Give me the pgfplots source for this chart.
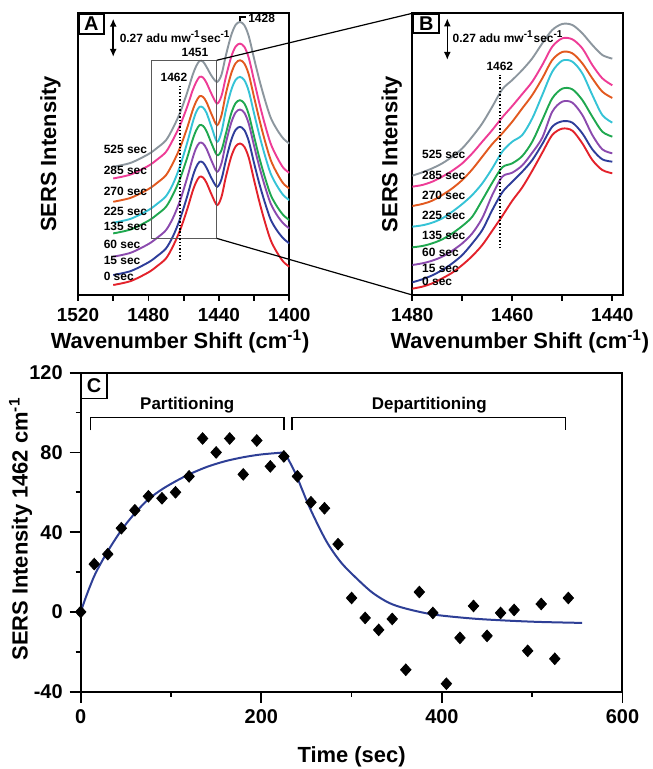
\documentclass[border=0pt]{standalone}
\usepackage{fontspec}
\setmainfont{Liberation Sans}
\usepackage{pgfplots}
\pgfplotsset{compat=1.18}
\usetikzlibrary{arrows.meta}

\definecolor{c0}{HTML}{E3222B}
\definecolor{c15}{HTML}{2E3D9A}
\definecolor{c60}{HTML}{8B4AAE}
\definecolor{c135}{HTML}{1FA84F}
\definecolor{c225}{HTML}{35C3D6}
\definecolor{c270}{HTML}{E2591F}
\definecolor{c285}{HTML}{EE3C96}
\definecolor{c525}{HTML}{8C969E}
\definecolor{fitblue}{HTML}{2E3F96}

\newcommand{\fs}[1]{\fontsize{#1}{#1}\selectfont\bfseries}

\pgfplotsset{
  panel/.style={
    scale only axis, anchor=south west,
    tick align=outside, tick pos=left,
    axis line style={line width=1bp},
    every tick/.style={black, line width=0.9bp},
    major tick length=3bp, minor tick length=3bp,
    /pgf/number format/assume math mode=true,
    /pgf/number format/1000 sep={},
    tick label style={font=\fs{9.5}},
    label style={font=\fs{11}},
  },
  spec/.style={smooth, no markers, line width=0.95bp},
}
\tikzset{tlab/.style={font=\fs{6}, anchor=west, inner sep=0pt}}

\begin{document}
\begin{tikzpicture}
\useasboundingbox (0,0) rectangle (326.5bp,384.5bp);

% ---------------- panel A ----------------
\begin{axis}[panel, name=A,
  at={(39bp,237bp)}, width=105.65bp, height=141bp,
  x dir=reverse, xmin=1400, xmax=1520, ymin=0, ymax=847,
  xtick={1400,1440,1480,1520}, minor xtick={1420,1460,1500}, ytick=\empty,
  xlabel={Wavenumber Shift (cm\textsuperscript{-1})},
  ylabel={SERS Intensity},
  xlabel style={at={(axis description cs:0.483,-0.165)}, anchor=center},
  ylabel style={at={(axis description cs:-0.13,0.5)}, anchor=center},
]
\addplot[spec, c0] coordinates {(1500,30)(1490,42)(1480,68)(1475,87)(1470,110)(1466,147)(1462,195)(1458,257)(1455,310)(1453,338)(1451,355)(1449,353)(1447,337)(1444,300)(1441,270)(1438.5,295)(1436,355)(1433,415)(1430.5,446)(1428,455)(1425.5,445)(1423,412)(1420,345)(1417,280)(1414,222)(1410.6,165)(1407,128)(1403.4,100)(1400,85)};
\addplot[spec, c15] coordinates {(1500,60)(1490,72)(1480,98)(1475,117)(1470,140)(1466,177)(1462,229)(1458,296)(1455,353)(1453,383)(1451,400)(1449,398)(1447,382)(1444,349)(1441,325)(1438.5,348)(1436,405)(1433,465)(1430.5,496)(1428,505)(1425.5,495)(1423,462)(1420,396)(1417,334)(1414,280)(1410.6,227)(1407,194)(1403.4,170)(1400,155)};
\addplot[spec, c60] coordinates {(1500,115)(1490,127)(1480,153)(1475,172)(1470,195)(1466,232)(1462,284)(1458,352)(1455,409)(1453,440)(1451,457)(1449,455)(1447,439)(1444,401)(1441,370)(1438.5,396)(1436,457)(1433,517)(1430.5,548)(1428,557)(1425.5,547)(1423,514)(1420,448)(1417,385)(1414,329)(1410.6,275)(1407,240)(1403.4,215)(1400,200)};
\addplot[spec, c135] coordinates {(1500,185)(1490,197)(1480,223)(1475,242)(1470,265)(1466,302)(1462,350)(1458,412)(1455,465)(1453,493)(1451,510)(1449,508)(1447,492)(1444,453)(1441,420)(1438.5,435)(1436,485)(1433,545)(1430.5,576)(1428,585)(1425.5,575)(1423,542)(1420,476)(1417,412)(1414,356)(1410.6,301)(1407,266)(1403.4,240)(1400,225)};
\addplot[spec, c225] coordinates {(1500,217)(1490,229)(1480,255)(1475,274)(1470,297)(1466,334)(1462,388)(1458,457)(1455,516)(1453,548)(1451,565)(1449,563)(1447,547)(1444,502)(1441,460)(1438.5,490)(1436,555)(1433,615)(1430.5,646)(1428,655)(1425.5,645)(1423,612)(1420,545)(1417,480)(1414,422)(1410.6,365)(1407,328)(1403.4,300)(1400,285)};
\addplot[spec, c270] coordinates {(1500,280)(1490,292)(1480,318)(1475,337)(1470,360)(1466,397)(1462,443)(1458,502)(1455,553)(1453,580)(1451,597)(1449,595)(1447,579)(1444,541)(1441,510)(1438.5,540)(1436,605)(1433,665)(1430.5,696)(1428,705)(1425.5,695)(1423,662)(1420,594)(1417,527)(1414,466)(1410.6,406)(1407,366)(1403.4,335)(1400,320)};
\addplot[spec, c285] coordinates {(1500,350)(1490,362)(1480,388)(1475,407)(1470,430)(1466,467)(1462,510)(1458,565)(1455,613)(1453,638)(1451,655)(1449,653)(1447,637)(1444,602)(1441,575)(1438.5,598)(1436,655)(1433,715)(1430.5,746)(1428,755)(1425.5,745)(1423,712)(1420,644)(1417,576)(1414,515)(1410.6,455)(1407,414)(1403.4,382)(1400,367)};
\addplot[spec, c525] coordinates {(1500,385)(1490,397)(1480,423)(1475,442)(1470,465)(1466,502)(1462,548)(1458,608)(1455,659)(1453,686)(1451,703)(1449,701)(1447,685)(1444,657)(1441,640)(1438.5,662)(1436,720)(1433,780)(1430.5,811)(1428,820)(1425.5,810)(1423,777)(1420,710)(1417,646)(1414,589)(1410.6,533)(1407,497)(1403.4,470)(1400,455)};
\draw[black!65, line width=0.7bp] (axis cs:1478.2,170) rectangle (axis cs:1441.2,705);
\coordinate (aTR) at (axis cs:1441.2,705);
\coordinate (aBR) at (axis cs:1441.2,170);
\draw[densely dotted, line width=0.7bp] (axis cs:1462,105) -- (axis cs:1462,630);
\node[font=\fs{6}] at (axis cs:1465.5,655) {1462};
\node[font=\fs{6}] at (axis cs:1453.6,727) {1451};
\draw[line width=0.6bp] (axis cs:1428,822) -- (axis cs:1428,835) -- (axis cs:1424.5,835);
\node[tlab] at (axis cs:1423.5,830) {1428};
\draw[{Latex[length=4bp,width=3.5bp]}-{Latex[length=4bp,width=3.5bp]}, line width=0.8bp] (axis cs:1500,830) -- (axis cs:1500,715);
\node[tlab] at (axis cs:1496.5,775) {0.27 adu mw\textsuperscript{-1}sec\textsuperscript{-1}};
\node[tlab] at (axis cs:1505.6,437) {525 sec};
\node[tlab] at (axis cs:1505.6,373) {285 sec};
\node[tlab] at (axis cs:1505.6,312) {270 sec};
\node[tlab] at (axis cs:1505.6,250) {225 sec};
\node[tlab] at (axis cs:1505.6,207) {135 sec};
\node[tlab] at (axis cs:1505.6,153) {60 sec};
\node[tlab] at (axis cs:1505.6,105) {15 sec};
\node[tlab] at (axis cs:1505.6,57) {0 sec};
\node[draw, line width=0.9bp, anchor=north west, minimum width=12.5bp, minimum height=10bp, inner sep=0pt, font=\fs{10}] at (axis description cs:0,1) {A};
\end{axis}

% ---------------- panel B ----------------
\begin{axis}[panel, name=B,
  at={(206.15bp,237bp)}, width=105.5bp, height=140.85bp,
  x dir=reverse, xmin=1437.8, xmax=1480, ymin=0, ymax=845,
  xtick={1440,1460,1480}, minor xtick={1450,1470}, ytick=\empty,
  xlabel={Wavenumber Shift (cm\textsuperscript{-1})},
  ylabel={SERS Intensity},
  xlabel style={at={(axis description cs:0.51,-0.165)}, anchor=center},
  ylabel style={at={(axis description cs:-0.098,0.5)}, anchor=center},
]
\addplot[spec, c0] coordinates {(1480,19)(1478,25)(1476,35)(1474,50)(1472,67)(1470,90)(1468,117)(1466,150)(1464,193)(1462,237)(1460,283)(1458,323)(1456,373)(1454,427)(1452,480)(1450,499)(1448,493)(1446,455)(1444,405)(1442,375)(1440,365)};
\addplot[spec, c15] coordinates {(1480,38)(1478,47)(1476,59)(1474,75)(1472,95)(1470,120)(1468,155)(1466,195)(1464,255)(1462,308)(1460,340)(1458,370)(1456,405)(1454,453)(1452,505)(1450,521)(1448,517)(1446,485)(1444,437)(1442,407)(1440,400)};
\addplot[spec, c60] coordinates {(1480,90)(1478,95)(1476,103)(1474,115)(1472,133)(1470,155)(1468,185)(1466,231)(1464,300)(1462,355)(1460,367)(1458,389)(1456,427)(1454,472)(1452,550)(1450,580)(1448,577)(1446,540)(1444,480)(1442,437)(1440,425)};
\addplot[spec, c135] coordinates {(1480,143)(1478,147)(1476,155)(1474,167)(1472,185)(1470,207)(1468,235)(1466,285)(1464,337)(1462,383)(1460,395)(1458,417)(1456,460)(1454,525)(1452,590)(1450,619)(1448,617)(1446,585)(1444,535)(1442,490)(1440,475)};
\addplot[spec, c225] coordinates {(1480,205)(1478,209)(1476,217)(1474,230)(1472,250)(1470,273)(1468,300)(1466,335)(1464,380)(1462,430)(1460,460)(1458,480)(1456,530)(1454,600)(1452,670)(1450,703)(1448,700)(1446,665)(1444,600)(1442,540)(1440,517)};
\addplot[spec, c270] coordinates {(1480,267)(1478,273)(1476,283)(1474,300)(1472,320)(1470,345)(1468,377)(1466,415)(1464,453)(1462,485)(1460,520)(1458,560)(1456,600)(1454,650)(1452,705)(1450,729)(1448,725)(1446,695)(1444,650)(1442,610)(1440,591)};
\addplot[spec, c285] coordinates {(1480,325)(1478,330)(1476,340)(1474,355)(1472,373)(1470,395)(1468,425)(1466,460)(1464,495)(1462,533)(1460,567)(1458,603)(1456,640)(1454,690)(1452,745)(1450,770)(1448,767)(1446,740)(1444,690)(1442,650)(1440,629)};
\addplot[spec, c525] coordinates {(1480,358)(1478,368)(1476,380)(1474,395)(1472,415)(1470,440)(1468,475)(1466,515)(1464,565)(1462,617)(1460,645)(1458,675)(1456,710)(1454,755)(1452,795)(1450,813)(1448,810)(1446,785)(1444,750)(1442,720)(1440,709)};
\draw[densely dotted, line width=0.7bp] (axis cs:1462.5,140) -- (axis cs:1462.5,660);
\node[font=\fs{6}] at (axis cs:1462.5,685) {1462};
\draw[{Latex[length=4bp,width=3.5bp]}-{Latex[length=4bp,width=3.5bp]}, line width=0.8bp] (axis cs:1473,830) -- (axis cs:1473,705);
\node[tlab] at (axis cs:1472,775) {0.27 adu mw\textsuperscript{-1}sec\textsuperscript{-1}};
\node[tlab] at (axis cs:1478.1,423) {525 sec};
\node[tlab] at (axis cs:1478.1,360) {285 sec};
\node[tlab] at (axis cs:1478.1,300) {270 sec};
\node[tlab] at (axis cs:1478.1,240) {225 sec};
\node[tlab] at (axis cs:1478.1,180) {135 sec};
\node[tlab] at (axis cs:1478.1,127) {60 sec};
\node[tlab] at (axis cs:1478.1,80) {15 sec};
\node[tlab] at (axis cs:1478.1,40) {0 sec};
\node[draw, line width=0.9bp, anchor=north west, minimum width=13bp, minimum height=9.5bp, inner sep=0pt, font=\fs{10}] at (axis description cs:0,1) {B};
\end{axis}

\draw[line width=0.6bp] (aTR) -- (B.north west);
\draw[line width=0.6bp] (aBR) -- (B.south west);

% ---------------- panel C ----------------
\begin{axis}[panel, name=C,
  at={(40.35bp,38.65bp)}, width=270.9bp, height=159.5bp,
  xmin=0, xmax=600, ymin=-40, ymax=120, clip=false,
  xtick={0,200,400,600}, minor xtick={100,300,500},
  ytick={-40,0,40,80,120}, minor ytick={-20,20,60,100},
  major tick length=5.5bp, minor tick length=2.5bp,
  tick label style={font=\fs{10}},
  xlabel={Time (sec)},
  ylabel={SERS Intensity 1462 cm\textsuperscript{-1}},
  xlabel style={at={(axis description cs:0.5,-0.204)}, anchor=center},
  ylabel style={at={(axis description cs:-0.111,0.51)}, anchor=center},
]
\addplot[only marks, mark=diamond*, mark size=2.9bp, mark options={xscale=1.2}, black] coordinates {
(0,0)(15,24)(30,29)(45,42)(60,51)(75,58)(90,57)(105,60)(120,68)(135,87)(150,80)(165,87)(180,69)(195,86)(210,73)(225,78)(240,68)(255,55)(270,52)(285,34)(300,7)(315,-3)(330,-9)(345,-3.5)(360,-29)(375,10)(390,-0.5)(405,-36)(420,-13)(435,3)(450,-12)(465,-0.5)(480,1)(495,-19.5)(510,4)(525,-23.5)(540,7)};
\addplot[smooth, no markers, fitblue, line width=1bp] coordinates {
(0,0)(5,6.5)(10,12.5)(15,18)(20,22.5)(30,30.5)(45,41)(60,49.5)(75,56.5)(90,61.5)(105,65.5)(120,69)(140,72.8)(160,75.6)(180,77.6)(200,79)(225,80)};
\addplot[smooth, no markers, fitblue, line width=1bp] coordinates {
(225,80)(229.6,76.8)(238.8,68.5)(253.5,52.4)(271.9,35.6)(288,25)(304.9,17.1)(323.3,9.6)(341.7,4.5)(360,1.7)(390.7,-1.3)(433.8,-3.3)(470.6,-4.3)(507.4,-5)(555.3,-5.5)};
\draw[line width=0.8bp] (axis cs:11,91.1) -- (axis cs:11,97.5) -- (axis cs:225,97.5) -- (axis cs:225,91.1);
\draw[line width=0.8bp] (axis cs:234,91.1) -- (axis cs:234,97.5) -- (axis cs:537,97.5) -- (axis cs:537,91.1);
\node[font=\fs{8.5}] at (axis cs:118,103.5) {Partitioning};
\node[font=\fs{8.5}] at (axis cs:386,103.5) {Departitioning};
\node[draw, line width=0.9bp, anchor=north west, minimum width=12.5bp, minimum height=12.5bp, inner sep=0pt, font=\fs{10}] at (axis description cs:0,1) {C};
\end{axis}
\end{tikzpicture}
\end{document}
